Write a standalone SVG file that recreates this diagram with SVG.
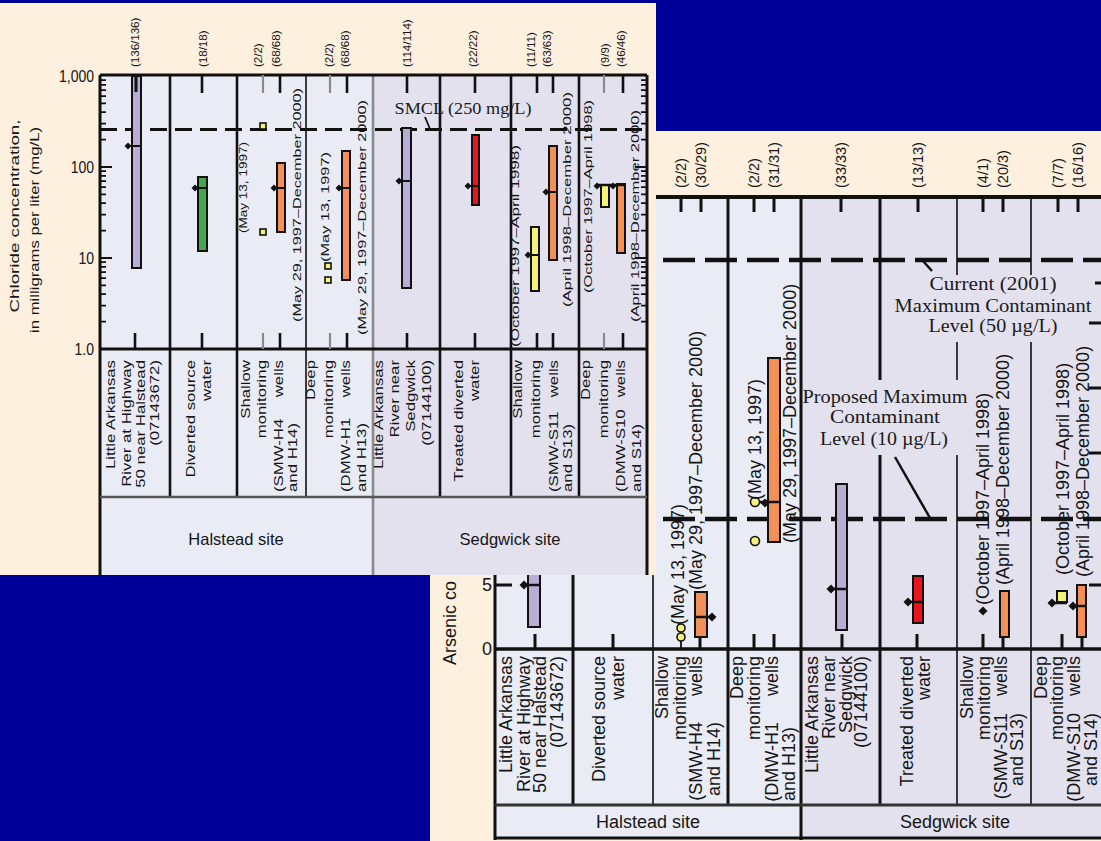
<svg xmlns="http://www.w3.org/2000/svg" width="1101" height="841" viewBox="0 0 1101 841">
<defs>
<style>
.tx{font-family:"Liberation Sans",Arial,sans-serif;fill:#151515}
.sf{font-family:"Liberation Serif","Times New Roman",serif;fill:#1a1a1a}
.k{stroke:#111;fill:none}
.bar{stroke:#111;stroke-width:2}
.pu{fill:#B9ADD6}
.or{fill:#F39058}
.rd{fill:#E8161C}
.ye{fill:#F4F27A}
.gr{fill:#45A84C}
.mk{fill:#111}
.yp{fill:#F4F27A;stroke:#111;stroke-width:1.6}
</style>
</defs>
<rect width="1101" height="841" fill="#000099"/>

<g id="arsenic-chart">
  <rect x="430" y="131" width="671" height="710" fill="#FDF0DF"/>
  <rect x="495" y="197" width="306" height="641" fill="#E9ECF5"/>
  <rect x="801" y="197" width="300" height="641" fill="#E3E1EE"/>
  <g id="arsenic-limits">
    <line x1="495" y1="260" x2="1101" y2="260" stroke="#111" stroke-width="4.5" stroke-dasharray="32 10"/>
    <line x1="495" y1="519" x2="1101" y2="519" stroke="#111" stroke-width="4.5" stroke-dasharray="32 10"/>
  </g>
  <g id="arsenic-grid" class="k">
    <path stroke-width="3" d="M495 197V840M573 197V805M728 197V805M801 197V840M880 197V380M880 455V805"/>
    <path stroke-width="1.6" d="M653 197V805M957 197V275M957 342V380M957 455V805M1031 197V275M1031 342V805"/>
    <path stroke-width="4" d="M495 197H1101"/>
    <path stroke-width="3.5" d="M495 649H1101"/>
    <path stroke-width="3" stroke="#333" d="M495 805H1101"/>
    <path stroke-width="3" d="M495 838H1101"/>
    <path stroke-width="3" d="M681 197v15M701 197v15M754 197v15M774 197v15M841 197v15M918 197v15M983 197v15M1003 197v15M1058 197v15M1078 197v15"/>
    <path stroke-width="3" d="M535 634v15M613 634v15M700 634v15M754 634v15M774 634v15M842 634v15M917 634v15M983 634v15M1003 634v15M1062 634v15M1082 634v15"/>
    <path stroke-width="1.8" d="M681 634v15"/>
    <path stroke-width="3" d="M495 585h17M1089 323h12M1089 388h12M1089 453h12M1089 585h12M1095 283h6"/>
  </g>
  <g id="arsenic-axis">
    <text class="tx" font-size="18" x="492" y="591" text-anchor="end">5</text>
    <text class="tx" font-size="18" x="492" y="655" text-anchor="end">0</text>
    <text class="tx" font-size="18" transform="translate(456,665) rotate(-90)">Arsenic co</text>
  </g>
  <g id="arsenic-counts" class="tx" font-size="14.5">
    <text transform="translate(686,188) rotate(-90)">(2/2)</text>
    <text transform="translate(706,188) rotate(-90)">(30/29)</text>
    <text transform="translate(759,188) rotate(-90)">(2/2)</text>
    <text transform="translate(779,188) rotate(-90)">(31/31)</text>
    <text transform="translate(846,188) rotate(-90)">(33/33)</text>
    <text transform="translate(923,188) rotate(-90)">(13/13)</text>
    <text transform="translate(988,188) rotate(-90)">(4/1)</text>
    <text transform="translate(1008,188) rotate(-90)">(20/3)</text>
    <text transform="translate(1063,188) rotate(-90)">(7/7)</text>
    <text transform="translate(1083,188) rotate(-90)">(16/16)</text>
  </g>
  <g id="arsenic-mcl-labels">
    <text class="sf" font-size="19" x="993" y="290" text-anchor="middle" textLength="127" lengthAdjust="spacingAndGlyphs">Current (2001)</text>
    <text class="sf" font-size="19" x="993" y="312" text-anchor="middle" textLength="197" lengthAdjust="spacingAndGlyphs">Maximum Contaminant</text>
    <text class="sf" font-size="19" x="993" y="332" text-anchor="middle" textLength="129" lengthAdjust="spacingAndGlyphs">Level (50 µg/L)</text>
    <text class="sf" font-size="19" x="885" y="403" text-anchor="middle" textLength="165" lengthAdjust="spacingAndGlyphs">Proposed Maximum</text>
    <text class="sf" font-size="19" x="885" y="423" text-anchor="middle" textLength="110" lengthAdjust="spacingAndGlyphs">Contaminant</text>
    <text class="sf" font-size="19" x="884" y="445" text-anchor="middle" textLength="128" lengthAdjust="spacingAndGlyphs">Level (10 µg/L)</text>
  </g>
  <g id="arsenic-leaders" class="k" stroke-width="2.5">
    <line x1="923" y1="261" x2="932" y2="271"/>
    <line x1="895" y1="457" x2="930" y2="518"/>
  </g>
  <g id="arsenic-data">
    <rect class="bar pu" x="528" y="540" width="12" height="87"/>
    <line class="k" stroke-width="2.5" x1="524" y1="585" x2="540" y2="585"/>
    <polygon class="mk" points="519.5,585 524,580.5 528.5,585 524,589.5"/>
    <rect class="bar or" x="695" y="592" width="12" height="45"/>
    <line class="k" stroke-width="2.5" x1="695" y1="617" x2="711" y2="617"/>
    <polygon class="mk" points="707.5,617 712,612.5 716.5,617 712,621.5"/>
    <circle class="yp" cx="681" cy="628" r="4"/>
    <circle class="yp" cx="681" cy="637" r="4"/>
    <rect class="bar or" x="768" y="358" width="12" height="184"/>
    <line class="k" stroke-width="2.5" x1="758" y1="502" x2="780" y2="502"/>
    <polygon class="mk" points="760.5,503 765,498.5 769.5,503 765,507.5"/>
    <circle class="yp" cx="755" cy="502" r="4.5"/>
    <circle class="yp" cx="755" cy="541" r="4.5"/>
    <rect class="bar pu" x="836" y="484" width="11" height="146"/>
    <line class="k" stroke-width="2.5" x1="831" y1="589" x2="847" y2="589"/>
    <polygon class="mk" points="826.5,589 831,584.5 835.5,589 831,593.5"/>
    <rect class="bar rd" x="913" y="576" width="10" height="47"/>
    <line class="k" stroke-width="2.5" x1="908" y1="602" x2="923" y2="602"/>
    <polygon class="mk" points="903.5,602 908,597.5 912.5,602 908,606.5"/>
    <polygon class="mk" points="978.5,611 983,606.5 987.5,611 983,615.5"/>
    <rect class="bar or" x="1000" y="591" width="9" height="46"/>
    <rect class="bar ye" x="1057" y="591" width="10" height="11"/>
    <line class="k" stroke-width="2.5" x1="1052" y1="603" x2="1067" y2="603"/>
    <polygon class="mk" points="1047.5,603 1052,598.5 1056.5,603 1052,607.5"/>
    <rect class="bar or" x="1077" y="585" width="9" height="52"/>
    <line class="k" stroke-width="2.5" x1="1073" y1="606" x2="1086" y2="606"/>
    <polygon class="mk" points="1068.5,606 1073,601.5 1077.5,606 1073,610.5"/>
  </g>
  <g id="arsenic-period-labels" class="tx" font-size="18">
    <text transform="translate(684,625) rotate(-90)">(May 13, 1997)</text>
    <text transform="translate(702,590) rotate(-90)">(May 29, 1997–December 2000)</text>
    <text transform="translate(761,500) rotate(-90)">(May 13, 1997)</text>
    <text transform="translate(796,543) rotate(-90)">(May 29, 1997–December 2000)</text>
    <text transform="translate(989,605) rotate(-90)">(October 1997–April 1998)</text>
    <text transform="translate(1009,585) rotate(-90)">(April 1998–December 2000)</text>
    <text transform="translate(1069,575) rotate(-90)">(October 1997–April 1998)</text>
    <text transform="translate(1089,577) rotate(-90)">(April 1998–December 2000)</text>
  </g>
  <g id="arsenic-categories" class="tx" font-size="18" text-anchor="end">
    <text transform="translate(512,656) rotate(-90)">Little Arkansas</text>
    <text transform="translate(530,656) rotate(-90)">River at Highway</text>
    <text transform="translate(546,656) rotate(-90)">50 near Halstead</text>
    <text transform="translate(563,656) rotate(-90)">(07143672)</text>
    <text transform="translate(605,656) rotate(-90)">Diverted source</text>
    <text transform="translate(624,656) rotate(-90)">water</text>
    <text transform="translate(668,656) rotate(-90)">Shallow</text>
    <text transform="translate(686,656) rotate(-90)">monitoring</text>
    <text transform="translate(702,656) rotate(-90)">wells</text>
    <text transform="translate(702,722) rotate(-90)">(SMW-H4</text>
    <text transform="translate(720,722) rotate(-90)">and H14)</text>
    <text transform="translate(743,656) rotate(-90)">Deep</text>
    <text transform="translate(760,656) rotate(-90)">monitoring</text>
    <text transform="translate(778,656) rotate(-90)">wells</text>
    <text transform="translate(778,722) rotate(-90)">(DMW-H1</text>
    <text transform="translate(795,727) rotate(-90)">and H13)</text>
    <text transform="translate(818,656) rotate(-90)">Little Arkansas</text>
    <text transform="translate(835,656) rotate(-90)">River near</text>
    <text transform="translate(852,656) rotate(-90)">Sedgwick</text>
    <text transform="translate(867,656) rotate(-90)">(07144100)</text>
    <text transform="translate(913,656) rotate(-90)">Treated diverted</text>
    <text transform="translate(930,656) rotate(-90)">water</text>
    <text transform="translate(973,656) rotate(-90)">Shallow</text>
    <text transform="translate(990,656) rotate(-90)">monitoring</text>
    <text transform="translate(1007,656) rotate(-90)">wells</text>
    <text transform="translate(1007,713) rotate(-90)">(SMW-S11</text>
    <text transform="translate(1023,713) rotate(-90)">and S13)</text>
    <text transform="translate(1047,656) rotate(-90)">Deep</text>
    <text transform="translate(1063,656) rotate(-90)">monitoring</text>
    <text transform="translate(1080,656) rotate(-90)">wells</text>
    <text transform="translate(1080,713) rotate(-90)">(DMW-S10</text>
    <text transform="translate(1097,713) rotate(-90)">and S14)</text>
  </g>
  <g id="arsenic-sites" class="tx" font-size="18" text-anchor="middle">
    <text x="648" y="828">Halstead site</text>
    <text x="955" y="828">Sedgwick site</text>
  </g>
</g>

<g id="chloride-chart">
  <rect x="0" y="3" width="656" height="572" fill="#FDF0DF"/>
  <rect x="100" y="75" width="273" height="500" fill="#E9ECF5"/>
  <rect x="373" y="75" width="274" height="500" fill="#E3E1EE"/>
  <g id="chloride-smcl">
    <line x1="100" y1="129.5" x2="647" y2="129.5" stroke="#111" stroke-width="3" stroke-dasharray="17 8"/>
    <text class="sf" font-size="16" x="463" y="114" text-anchor="middle" textLength="137" lengthAdjust="spacingAndGlyphs">SMCL (250 mg/L)</text>
    <line class="k" stroke-width="1.8" x1="425" y1="117" x2="430" y2="129"/>
  </g>
  <g id="chloride-grid" class="k">
    <path stroke-width="2.6" d="M170 75V497M237 75V497M440 75V497M511 75V497M579 75V497"/>
    <path stroke-width="1.6" d="M306 75V497"/>
    <path stroke-width="2.6" stroke="#8a8a8a" d="M373 75V575"/>
    <path stroke-width="3" d="M100 75V575M647 75V575M100 75H647M100 349H647"/>
    <path stroke-width="2.6" stroke="#555" d="M100 497H647"/>
    <path stroke-width="2.6" d="M135 75v18M202 75v18M280 75v18M347 75v18M407 75v18M475 75v18M537 75v18M553 75v18M623 75v18M135 333v16M202 333v16M280 333v16M347 333v16M407 333v16M475 333v16M537 333v16M553 333v16M623 333v16"/>
    <path stroke-width="2.2" stroke="#8a8a8a" d="M263 75v18M330 75v18M604 75v18M263 333v16M330 333v16M604 333v16"/>
    <path stroke-width="1.8" d="M100 258h12M100 167h12M647 258h-12M647 167h-12M100 321.6h6M100 305.6h6M100 294.2h6M100 285.4h6M100 278.2h6M100 272.1h6M100 266.8h6M100 262.2h6M100 230.6h6M100 214.6h6M100 203.2h6M100 194.4h6M100 187.2h6M100 181.1h6M100 175.8h6M100 171.2h6M100 139.6h6M100 123.6h6M100 112.2h6M100 103.4h6M100 96.2h6M100 90.1h6M100 84.8h6M100 80.2h6M647 321.6h-6M647 305.6h-6M647 294.2h-6M647 285.4h-6M647 278.2h-6M647 272.1h-6M647 266.8h-6M647 262.2h-6M647 230.6h-6M647 214.6h-6M647 203.2h-6M647 194.4h-6M647 187.2h-6M647 181.1h-6M647 175.8h-6M647 171.2h-6M647 139.6h-6M647 123.6h-6M647 112.2h-6M647 103.4h-6M647 96.2h-6M647 90.1h-6M647 84.8h-6M647 80.2h-6"/>
  </g>
  <g id="chloride-axis" class="tx" font-size="14" text-anchor="end">
    <text transform="translate(94,82) scale(1,1.2)">1,000</text>
    <text transform="translate(94,173) scale(1,1.2)">100</text>
    <text transform="translate(94,264) scale(1,1.2)">10</text>
    <text transform="translate(94,355) scale(1,1.2)">1.0</text>
    <text text-anchor="middle" font-size="12" transform="translate(19,216) rotate(-90)" textLength="193" lengthAdjust="spacingAndGlyphs">Chloride concentration,</text>
    <text text-anchor="middle" font-size="12" transform="translate(39,230) rotate(-90)" textLength="206" lengthAdjust="spacingAndGlyphs">in milligrams per liter (mg/L)</text>
  </g>
  <g id="chloride-counts" class="tx" font-size="10.5">
    <text transform="translate(138.5,67) rotate(-90) scale(1.1,1)">(136/136)</text>
    <text transform="translate(207,67) rotate(-90) scale(1.1,1)">(18/18)</text>
    <text transform="translate(262,67) rotate(-90) scale(1.1,1)">(2/2)</text>
    <text transform="translate(280,67) rotate(-90) scale(1.1,1)">(68/68)</text>
    <text transform="translate(333,67) rotate(-90) scale(1.1,1)">(2/2)</text>
    <text transform="translate(349,67) rotate(-90) scale(1.1,1)">(68/68)</text>
    <text transform="translate(411,67) rotate(-90) scale(1.1,1)">(114/114)</text>
    <text transform="translate(477,67) rotate(-90) scale(1.1,1)">(22/22)</text>
    <text transform="translate(535,67) rotate(-90) scale(1.1,1)">(11/11)</text>
    <text transform="translate(551,67) rotate(-90) scale(1.1,1)">(63/63)</text>
    <text transform="translate(609,67) rotate(-90) scale(1.1,1)">(9/9)</text>
    <text transform="translate(625,67) rotate(-90) scale(1.1,1)">(46/46)</text>
  </g>
  <g id="chloride-data">
    <rect class="bar pu" x="132" y="76" width="9" height="192"/>
    <line class="k" stroke-width="3" x1="136" y1="76" x2="136" y2="92"/>
    <line class="k" stroke-width="2" x1="128" y1="146" x2="141" y2="146"/>
    <polygon class="mk" points="124.5,146 128,142.5 131.5,146 128,149.5"/>
    <rect class="bar gr" x="198" y="177" width="9" height="74"/>
    <line class="k" stroke-width="2" x1="195" y1="188" x2="207" y2="188"/>
    <polygon class="mk" points="191.5,188 195,184.5 198.5,188 195,191.5"/>
    <rect class="yp" x="260" y="123" width="6" height="6"/>
    <rect class="yp" x="260" y="229" width="6" height="6"/>
    <rect class="bar or" x="277" y="163" width="8" height="69"/>
    <line class="k" stroke-width="2" x1="274" y1="188" x2="285" y2="188"/>
    <polygon class="mk" points="270.5,188 274,184.5 277.5,188 274,191.5"/>
    <rect class="yp" x="325" y="263" width="6" height="6"/>
    <rect class="yp" x="325" y="277" width="6" height="6"/>
    <rect class="bar or" x="342" y="151" width="8" height="129"/>
    <line class="k" stroke-width="2" x1="339" y1="188" x2="350" y2="188"/>
    <polygon class="mk" points="335.5,188 339,184.5 342.5,188 339,191.5"/>
    <rect class="bar pu" x="402" y="128" width="9" height="160"/>
    <line class="k" stroke-width="2" x1="399" y1="181" x2="411" y2="181"/>
    <polygon class="mk" points="395.5,181 399,177.5 402.5,181 399,184.5"/>
    <rect class="bar rd" x="472" y="135" width="7" height="70"/>
    <line class="k" stroke-width="2" x1="468" y1="186" x2="479" y2="186"/>
    <polygon class="mk" points="464.5,186 468,182.5 471.5,186 468,189.5"/>
    <rect class="bar ye" x="531" y="227" width="8" height="64"/>
    <line class="k" stroke-width="2" x1="528" y1="255" x2="539" y2="255"/>
    <polygon class="mk" points="524.5,255 528,251.5 531.5,255 528,258.5"/>
    <rect class="bar or" x="549" y="146" width="8" height="114"/>
    <line class="k" stroke-width="2" x1="546" y1="192" x2="557" y2="192"/>
    <polygon class="mk" points="542.5,192 546,188.5 549.5,192 546,195.5"/>
    <rect class="bar ye" x="601" y="185" width="8" height="22"/>
    <rect class="bar or" x="617" y="184" width="8" height="69"/>
    <line class="k" stroke-width="2.5" x1="597" y1="185" x2="625" y2="185"/>
    <polygon class="mk" points="593.5,186 597,182.5 600.5,186 597,189.5"/>
    <polygon class="mk" points="609.5,186 613,182.5 616.5,186 613,189.5"/>
  </g>
  <g id="chloride-period-labels" class="tx" font-size="11">
    <text transform="translate(247,233) rotate(-90)" textLength="91" lengthAdjust="spacingAndGlyphs">(May 13, 1997)</text>
    <text transform="translate(301,322) rotate(-90)" textLength="234" lengthAdjust="spacingAndGlyphs">(May 29, 1997–December 2000)</text>
    <text transform="translate(329,262) rotate(-90)" textLength="110" lengthAdjust="spacingAndGlyphs">(May 13, 1997)</text>
    <text transform="translate(366,335) rotate(-90)" textLength="235" lengthAdjust="spacingAndGlyphs">(May 29, 1997–December 2000)</text>
    <text transform="translate(519,347) rotate(-90)" textLength="202" lengthAdjust="spacingAndGlyphs">(October 1997–April 1998)</text>
    <text transform="translate(571,307) rotate(-90)" textLength="215" lengthAdjust="spacingAndGlyphs">(April 1998–December 2000)</text>
    <text transform="translate(592,293) rotate(-90)" textLength="193" lengthAdjust="spacingAndGlyphs">(October 1997–April 1998)</text>
    <text transform="translate(639,322) rotate(-90)" textLength="212" lengthAdjust="spacingAndGlyphs">(April 1998–December 2000)</text>
  </g>
  <g id="chloride-categories" class="tx" font-size="12" text-anchor="end">
    <text transform="translate(115,360) rotate(-90) scale(1.4,1)">Little Arkansas</text>
    <text transform="translate(131,360) rotate(-90) scale(1.4,1)">River at Highway</text>
    <text transform="translate(145,360) rotate(-90) scale(1.4,1)">50 near Halstead</text>
    <text transform="translate(159,360) rotate(-90) scale(1.4,1)">(07143672)</text>
    <text transform="translate(195,360) rotate(-90) scale(1.4,1)">Diverted source</text>
    <text transform="translate(211,360) rotate(-90) scale(1.4,1)">water</text>
    <text transform="translate(250,360) rotate(-90) scale(1.4,1)">Shallow</text>
    <text transform="translate(266,360) rotate(-90) scale(1.4,1)">monitoring</text>
    <text transform="translate(283,360) rotate(-90) scale(1.4,1)">wells</text>
    <text text-anchor="start" transform="translate(283,492) rotate(-90) scale(1.4,1)">(SMW-H4</text>
    <text text-anchor="start" transform="translate(297,492) rotate(-90) scale(1.4,1)">and H14)</text>
    <text transform="translate(315,360) rotate(-90) scale(1.4,1)">Deep</text>
    <text transform="translate(333,360) rotate(-90) scale(1.4,1)">monitoring</text>
    <text transform="translate(350,360) rotate(-90) scale(1.4,1)">wells</text>
    <text text-anchor="start" transform="translate(350,492) rotate(-90) scale(1.4,1)">(DMW-H1</text>
    <text text-anchor="start" transform="translate(366,492) rotate(-90) scale(1.4,1)">and H13)</text>
    <text transform="translate(383,360) rotate(-90) scale(1.4,1)">Little Arkansas</text>
    <text transform="translate(399,360) rotate(-90) scale(1.4,1)">River near</text>
    <text transform="translate(415,360) rotate(-90) scale(1.4,1)">Sedgwick</text>
    <text transform="translate(431,360) rotate(-90) scale(1.4,1)">(07144100)</text>
    <text transform="translate(463,360) rotate(-90) scale(1.4,1)">Treated diverted</text>
    <text transform="translate(479,360) rotate(-90) scale(1.4,1)">water</text>
    <text transform="translate(522,360) rotate(-90) scale(1.4,1)">Shallow</text>
    <text transform="translate(540,360) rotate(-90) scale(1.4,1)">monitoring</text>
    <text transform="translate(558,360) rotate(-90) scale(1.4,1)">wells</text>
    <text text-anchor="start" transform="translate(558,492) rotate(-90) scale(1.4,1)">(SMW-S11</text>
    <text text-anchor="start" transform="translate(572,492) rotate(-90) scale(1.4,1)">and S13)</text>
    <text transform="translate(590,360) rotate(-90) scale(1.4,1)">Deep</text>
    <text transform="translate(608,360) rotate(-90) scale(1.4,1)">monitoring</text>
    <text transform="translate(625,360) rotate(-90) scale(1.4,1)">wells</text>
    <text text-anchor="start" transform="translate(625,492) rotate(-90) scale(1.4,1)">(DMW-S10</text>
    <text text-anchor="start" transform="translate(641,492) rotate(-90) scale(1.4,1)">and S14)</text>
  </g>
  <g id="chloride-sites" class="tx" font-size="16.5" text-anchor="middle">
    <text x="236" y="545">Halstead site</text>
    <text x="510" y="545">Sedgwick site</text>
  </g>
</g>
</svg>
